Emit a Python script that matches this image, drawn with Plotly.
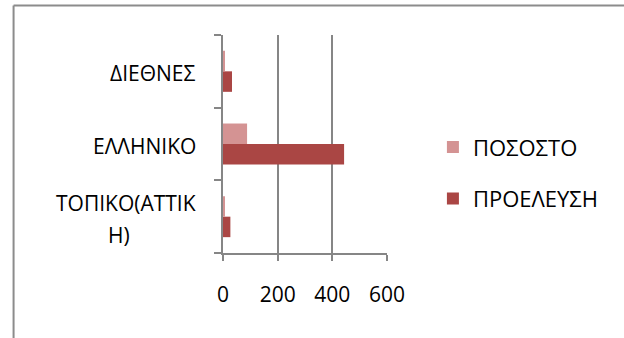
import plotly.graph_objects as go

# Data
categories = ["ΤΟΠΙΚΟ(ΑΤΤΙΚΗ)", "ΕΛΛΗΝΙΚΟ", "ΔΙΕΘΝΕΣ"]
category_labels = [["ΤΟΠΙΚΟ(ΑΤΤΙΚ", "Η)"], ["ΕΛΛΗΝΙΚΟ"], ["ΔΙΕΘΝΕΣ"]]
proeleusi = [27, 443, 33]
pososto = [5.4, 88.1, 6.6]
x_ticks = [0, 200, 400, 600]

DARK = "#AA4644"
LIGHT = "#D49393"
GRID = "#868686"
FONT = "'Open Sans', 'Noto Sans', sans-serif"
LABEL_SIZE = 21
LINE_STEP = 32      # pixel distance between wrapped label lines
WRAP_INDENT = -66   # horizontal offset that centres a wrapped line under the first

fig = go.Figure()
fig.add_trace(go.Bar(
    y=categories, x=proeleusi, orientation="h", name="ΠΡΟΕΛΕΥΣΗ",
    marker=dict(color=DARK, line=dict(width=0)),
    legendgroup="g2", legendrank=2,
))
fig.add_trace(go.Bar(
    y=categories, x=pososto, orientation="h", name="ΠΟΣΟΣΤΟ",
    marker=dict(color=LIGHT, line=dict(width=0)),
    legendgroup="g1", legendrank=1,
))

# Category labels: the block is right-aligned next to the axis,
# wrapped continuation lines sit centred beneath the first line
for cat, lines in zip(categories, category_labels):
    n = len(lines)
    for i, line in enumerate(lines):
        shift = ((n - 1) / 2 - i) * LINE_STEP - 2
        fig.add_annotation(
            x=-0.15, xref="paper", y=cat, yref="y", text=line,
            showarrow=False, yanchor="middle", yshift=shift,
            xanchor="right", xshift=0 if i == 0 else WRAP_INDENT,
            font=dict(family=FONT, size=LABEL_SIZE, color="#000000"),
        )

# Outer frame (left and top edges)
fig.add_shape(type="line", xref="paper", yref="paper",
              x0=-1.277, x1=-1.277, y0=1.135, y1=-0.5,
              line=dict(color="#8C8C8C", width=2))
fig.add_shape(type="line", xref="paper", yref="paper",
              x0=-1.277, x1=2.5, y0=1.135, y1=1.135,
              line=dict(color="#8C8C8C", width=2))

fig.update_layout(
    width=624, height=338,
    margin=dict(l=223, r=237, t=35, b=85),
    paper_bgcolor="white", plot_bgcolor="white",
    barmode="group", bargap=0.436, bargroupgap=0,
    font=dict(family=FONT, color="#000000"),
    showlegend=True,
    legend=dict(
        x=1.28, xanchor="left", y=0.366, yanchor="middle",
        traceorder="grouped", tracegroupgap=20,
        font=dict(family=FONT, size=22, color="#000000"),
        bgcolor="rgba(0,0,0,0)",
    ),
    xaxis=dict(
        range=[0, 600], tickvals=x_ticks, ticktext=[str(v) for v in x_ticks],
        showgrid=True, gridcolor=GRID, gridwidth=1.5,
        showline=True, linecolor=GRID, linewidth=1.5,
        ticks="outside", ticklen=6, tickcolor=GRID, tickwidth=1.5,
        ticklabelstandoff=16,
        tickfont=dict(family=FONT, size=21, color="#000000"),
        zeroline=False, fixedrange=True,
    ),
    yaxis=dict(
        categoryorder="array", categoryarray=categories,
        showgrid=False, showline=True, linecolor=GRID, linewidth=1.5,
        ticks="outside", tickson="boundaries", ticklen=7,
        tickcolor=GRID, tickwidth=1.5,
        showticklabels=False, zeroline=False, fixedrange=True,
    ),
)

fig.write_html("out.html")
